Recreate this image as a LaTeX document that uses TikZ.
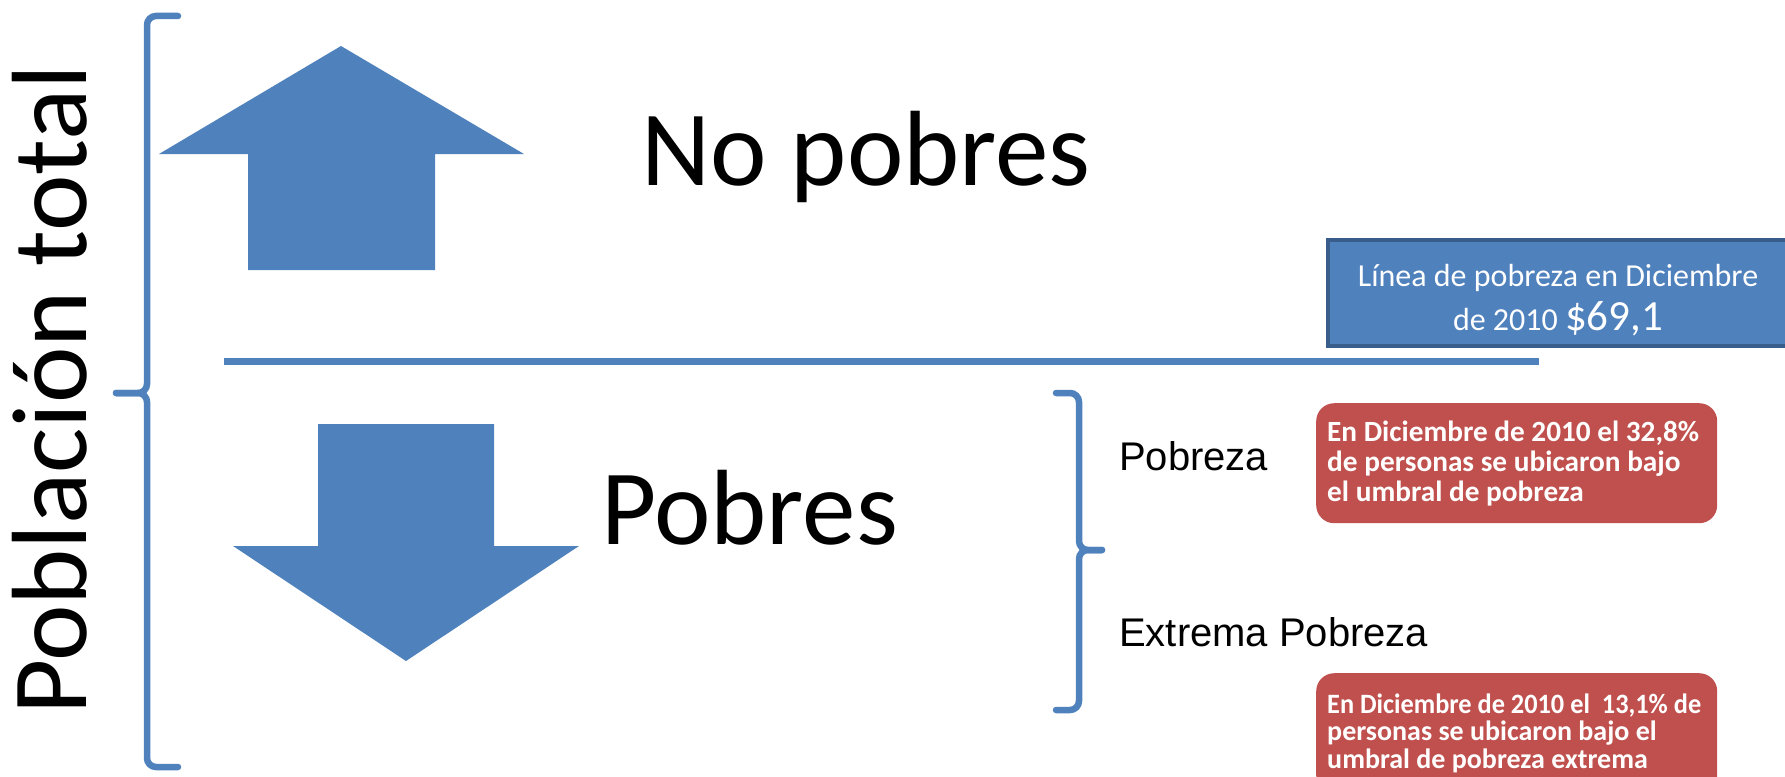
\documentclass[tikz,border=0pt]{standalone}
\usepackage{fontspec}
\usepackage{graphicx}
\setmainfont{Carlito}
\newfontfamily\arialfont{Liberation Sans}
\definecolor{accentblue}{HTML}{4F81BD}
\definecolor{borderblue}{HTML}{385D8A}
\definecolor{accentred}{HTML}{C0504D}

\begin{document}
\begin{tikzpicture}[x=1bp, y=-1bp, every node/.style={inner sep=0pt, anchor=base west},
	bigtext/.style={font=\fontsize{107bp}{107bp}\selectfont},
	labeltext/.style={font=\arialfont\fontsize{40bp}{48bp}\selectfont},
	blockarrow/.style={fill=accentblue, draw=none},
	bracket/.style={draw=accentblue, line width=6.5bp, rounded corners=9bp, line cap=round},
	notebox/.style={rectangle, rounded corners=18bp, fill=accentred, text=white, anchor=north west, align=flush left, minimum height=120bp, inner xsep=11bp, text width=379bp, font=\bfseries\fontsize{29.3bp}{30bp}\selectfont},
	linebox/.style={rectangle, fill=accentblue, draw=borderblue, line width=4bp, text=white, align=center, anchor=center, minimum width=460bp, minimum height=106bp, font=\fontsize{32bp}{38bp}\selectfont}]
	\useasboundingbox (0,0) rectangle (1785,777);
	\clip (0,0) rectangle (1785,777);

	\node[bigtext, rotate=90] (poblacion) at (86,715) {Población total};
	\draw[bracket] (178,16) -- (147,16) -- (147,393) -- (116,393);
	\draw[bracket] (116,393) -- (147,393) -- (147,767) -- (178,767);

	\fill[blockarrow] (341,46) -- (524,154) -- (435,154) -- (435,270) -- (248,270) -- (248,154) -- (159,154) -- cycle;
	\fill[blockarrow] (318,424) -- (494,424) -- (494,546) -- (579,546) -- (406,661) -- (233,546) -- (318,546) -- cycle;
	\node[bigtext] (nopobres) at (641,185) {No pobres};
	\node[bigtext] (pobres) at (601,544) {Pobres};

	\draw[accentblue, line width=7bp] (224,361) -- (1539,361);
	\node[linebox] (umbral) at (1558,293) {\rule{0pt}{36bp}Línea de pobreza en Diciembre\\[6bp]de 2010 {\fontsize{43bp}{50bp}\selectfont\$69,1}};

	\draw[bracket] (1056,393) -- (1079,393) -- (1079,550) -- (1102,550);
	\draw[bracket] (1102,550) -- (1079,550) -- (1079,710) -- (1056,710);
	\node[labeltext] (pobreza) at (1119,470) {Pobreza};
	\node[labeltext] (extrema) at (1119,646) {Extrema Pobreza};

	\node[notebox] (pobnote) at (1316,403) {\resizebox{372bp}{\height}{En Diciembre de 2010 el 32,8\%}\\de personas se ubicaron bajo\\el umbral de pobreza};
	\node[notebox, font=\bfseries\fontsize{28bp}{27.5bp}\selectfont] (extnote) at (1316,673) {\resizebox{374bp}{\height}{En Diciembre de 2010 el\ \ 13,1\% de}\\personas se ubicaron bajo el\\umbral de pobreza extrema};

\end{tikzpicture}
\end{document}
